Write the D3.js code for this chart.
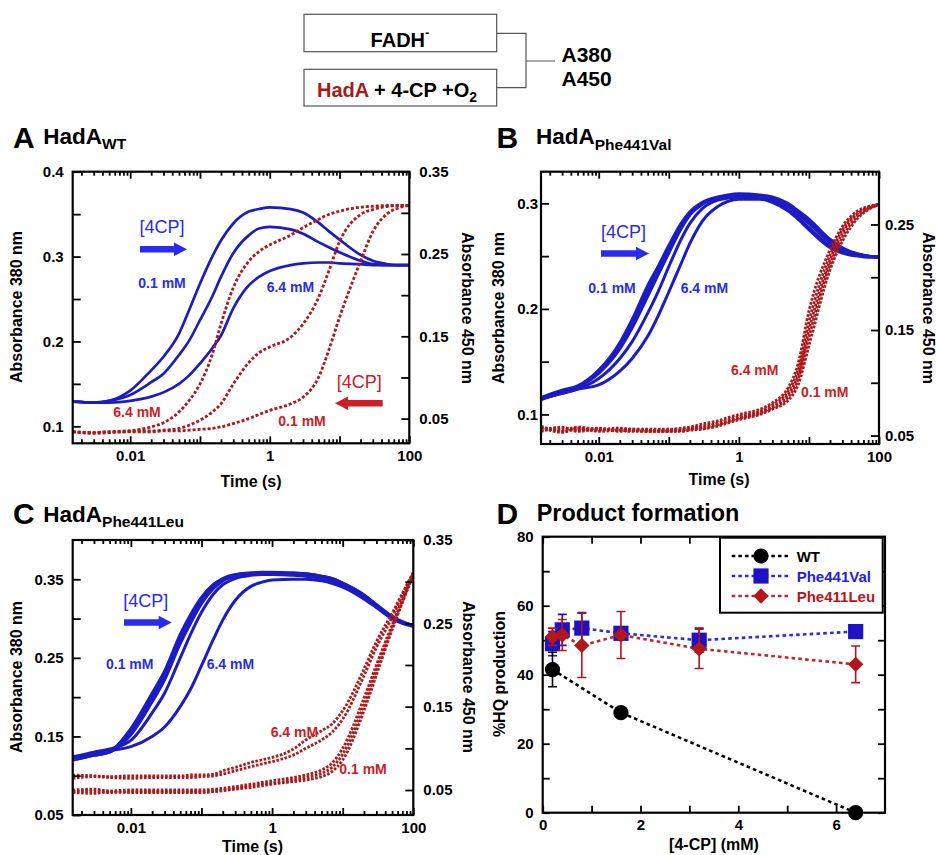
<!DOCTYPE html>
<html>
<head>
<meta charset="utf-8">
<script src="https://cdn.jsdelivr.net/npm/d3@7"></script>
<style>
body { margin: 0; background: #fff; }
svg { font-family: Arial, "Liberation Sans", Helvetica, sans-serif; }
</style>
</head>
<body>
<svg id="fig" width="936" height="855"></svg>
<script>
// sampling times (s) shared by all stopped-flow traces
var TIMES = [0.0015, 0.003, 0.005, 0.01, 0.02, 0.03, 0.05, 0.07, 0.1, 0.15, 0.2, 0.3, 0.5, 0.7, 1, 2, 3, 5, 7, 10, 20, 30, 50, 70, 100];

// panel A, HadA WT
var A380_01  = [0.129, 0.128, 0.130, 0.142, 0.166, 0.182, 0.209, 0.237, 0.268, 0.300, 0.319, 0.339, 0.353, 0.356, 0.358, 0.356, 0.352, 0.340, 0.330, 0.320, 0.302, 0.295, 0.291, 0.290, 0.290];
var A380_mid = [0.129, 0.128, 0.130, 0.137, 0.152, 0.162, 0.184, 0.201, 0.225, 0.253, 0.276, 0.304, 0.325, 0.333, 0.335, 0.332, 0.327, 0.317, 0.311, 0.305, 0.295, 0.291, 0.290, 0.290, 0.290];
var A380_64  = [0.129, 0.128, 0.128, 0.130, 0.135, 0.140, 0.150, 0.160, 0.174, 0.192, 0.207, 0.239, 0.266, 0.276, 0.283, 0.290, 0.292, 0.293, 0.293, 0.292, 0.291, 0.290, 0.290, 0.290, 0.290];
var A450_64  = [0.034, 0.032, 0.033, 0.035, 0.040, 0.045, 0.058, 0.072, 0.092, 0.128, 0.165, 0.209, 0.241, 0.253, 0.261, 0.273, 0.282, 0.292, 0.298, 0.302, 0.307, 0.308, 0.309, 0.309, 0.309];
var A450_mid = [0.034, 0.033, 0.034, 0.035, 0.035, 0.036, 0.038, 0.042, 0.048, 0.058, 0.068, 0.092, 0.118, 0.130, 0.137, 0.149, 0.165, 0.197, 0.229, 0.265, 0.298, 0.304, 0.308, 0.309, 0.309];
var A450_01  = [0.034, 0.033, 0.034, 0.034, 0.034, 0.035, 0.035, 0.036, 0.037, 0.038, 0.040, 0.044, 0.050, 0.055, 0.060, 0.068, 0.076, 0.100, 0.133, 0.173, 0.241, 0.277, 0.300, 0.306, 0.309];

// panel B, Phe441Val
var B380_1  = [0.116, 0.123, 0.127, 0.142, 0.168, 0.190, 0.222, 0.240, 0.260, 0.281, 0.292, 0.301, 0.306, 0.308, 0.309, 0.308, 0.306, 0.300, 0.293, 0.285, 0.266, 0.258, 0.252, 0.250, 0.249];
var B380_1b = [0.115, 0.122, 0.126, 0.140, 0.165, 0.186, 0.217, 0.236, 0.256, 0.278, 0.290, 0.300, 0.305, 0.307, 0.308, 0.307, 0.305, 0.298, 0.291, 0.283, 0.264, 0.257, 0.252, 0.250, 0.249];
var B380_2  = [0.114, 0.121, 0.126, 0.139, 0.162, 0.182, 0.212, 0.232, 0.253, 0.276, 0.289, 0.299, 0.305, 0.307, 0.308, 0.307, 0.304, 0.297, 0.290, 0.281, 0.263, 0.256, 0.251, 0.250, 0.249];
var B380_3  = [0.115, 0.120, 0.124, 0.134, 0.153, 0.169, 0.196, 0.216, 0.240, 0.266, 0.281, 0.295, 0.303, 0.305, 0.306, 0.305, 0.302, 0.294, 0.287, 0.277, 0.260, 0.254, 0.251, 0.250, 0.249];
var B380_64 = [0.115, 0.120, 0.124, 0.128, 0.141, 0.153, 0.174, 0.193, 0.216, 0.243, 0.262, 0.283, 0.297, 0.302, 0.304, 0.304, 0.301, 0.293, 0.285, 0.275, 0.258, 0.253, 0.250, 0.249, 0.249];
var B450_64 = [0.057, 0.055, 0.058, 0.056, 0.057, 0.056, 0.056, 0.056, 0.056, 0.057, 0.058, 0.061, 0.064, 0.067, 0.070, 0.075, 0.081, 0.095, 0.118, 0.168, 0.226, 0.248, 0.263, 0.267, 0.269];
var B450_2  = [0.055, 0.058, 0.054, 0.056, 0.055, 0.056, 0.055, 0.055, 0.055, 0.056, 0.057, 0.059, 0.062, 0.065, 0.068, 0.073, 0.079, 0.092, 0.112, 0.158, 0.221, 0.245, 0.261, 0.266, 0.269];
var B450_3  = [0.059, 0.054, 0.056, 0.055, 0.056, 0.055, 0.055, 0.055, 0.055, 0.055, 0.056, 0.058, 0.061, 0.064, 0.067, 0.072, 0.077, 0.089, 0.107, 0.150, 0.216, 0.242, 0.260, 0.265, 0.269];
var B450_4  = [0.054, 0.057, 0.055, 0.057, 0.054, 0.055, 0.054, 0.054, 0.054, 0.055, 0.056, 0.057, 0.060, 0.063, 0.066, 0.071, 0.076, 0.086, 0.103, 0.143, 0.212, 0.238, 0.258, 0.265, 0.269];
var B450_01 = [0.058, 0.053, 0.057, 0.054, 0.055, 0.054, 0.054, 0.054, 0.054, 0.054, 0.055, 0.056, 0.059, 0.062, 0.065, 0.070, 0.075, 0.083, 0.098, 0.135, 0.207, 0.234, 0.256, 0.264, 0.269];

// panel C, Phe441Leu
var C380_1  = [0.121, 0.127, 0.131, 0.160, 0.205, 0.233, 0.280, 0.305, 0.327, 0.344, 0.351, 0.356, 0.358, 0.359, 0.359, 0.358, 0.357, 0.354, 0.351, 0.345, 0.330, 0.318, 0.303, 0.296, 0.291];
var C380_1b = [0.120, 0.126, 0.130, 0.156, 0.200, 0.228, 0.274, 0.300, 0.323, 0.342, 0.350, 0.355, 0.358, 0.358, 0.358, 0.358, 0.357, 0.354, 0.351, 0.345, 0.330, 0.317, 0.302, 0.295, 0.291];
var C380_2  = [0.120, 0.126, 0.130, 0.152, 0.194, 0.222, 0.268, 0.294, 0.319, 0.339, 0.348, 0.354, 0.357, 0.358, 0.358, 0.357, 0.356, 0.353, 0.350, 0.344, 0.329, 0.317, 0.302, 0.295, 0.291];
var C380_3  = [0.124, 0.130, 0.134, 0.145, 0.180, 0.205, 0.250, 0.280, 0.308, 0.332, 0.343, 0.351, 0.355, 0.356, 0.356, 0.355, 0.354, 0.351, 0.348, 0.342, 0.327, 0.315, 0.301, 0.295, 0.291];
var C380_64 = [0.123, 0.128, 0.132, 0.137, 0.150, 0.162, 0.188, 0.210, 0.240, 0.275, 0.298, 0.323, 0.341, 0.346, 0.349, 0.350, 0.350, 0.348, 0.345, 0.340, 0.325, 0.314, 0.300, 0.294, 0.290];
var C450_64 = [0.068, 0.067, 0.066, 0.067, 0.067, 0.067, 0.067, 0.068, 0.068, 0.069, 0.073, 0.077, 0.083, 0.086, 0.089, 0.099, 0.110, 0.121, 0.129, 0.145, 0.195, 0.228, 0.262, 0.286, 0.311];
var C450_2  = [0.064, 0.066, 0.065, 0.064, 0.065, 0.065, 0.065, 0.065, 0.066, 0.067, 0.069, 0.073, 0.078, 0.081, 0.084, 0.092, 0.100, 0.110, 0.119, 0.135, 0.187, 0.221, 0.257, 0.284, 0.310];
var C450_3  = [0.050, 0.051, 0.049, 0.050, 0.050, 0.050, 0.050, 0.050, 0.050, 0.051, 0.052, 0.054, 0.057, 0.059, 0.061, 0.065, 0.068, 0.074, 0.082, 0.100, 0.160, 0.200, 0.248, 0.278, 0.309];
var C450_4  = [0.048, 0.049, 0.047, 0.048, 0.048, 0.048, 0.048, 0.048, 0.048, 0.049, 0.050, 0.052, 0.055, 0.057, 0.058, 0.062, 0.065, 0.070, 0.077, 0.093, 0.152, 0.194, 0.245, 0.276, 0.309];
var C450_01 = [0.047, 0.046, 0.048, 0.047, 0.047, 0.047, 0.047, 0.047, 0.047, 0.048, 0.049, 0.051, 0.053, 0.055, 0.057, 0.060, 0.062, 0.066, 0.072, 0.086, 0.145, 0.188, 0.242, 0.275, 0.308];

// panel D, product formation
var WT_CONC = [0.2, 1.6, 6.4];
var WT_HQ   = [41.5, 29, 0];
var WT_ERR  = [5, 0, 0];
var MUT_CONC = [0.2, 0.4, 0.8, 1.6, 3.2, 6.4];
var VAL_HQ   = [49, 53, 53.5, 52, 50, 52.5];
var VAL_ERR  = [3.5, 4.5, 4.5, 1.5, 3.5, 1.5];
var LEU_HQ   = [51, 51.5, 48.5, 51.5, 47.5, 43];
var LEU_ERR  = [2.5, 4.5, 9.3, 6.8, 5.7, 5.3];

// ticks
var X_DOMAIN = [0.0015, 100];
var X_DECADES = [0.01, 0.1, 1, 10, 100];
var X_LABELS = [0.01, 1, 100];
var A_LEFT = [0.1, 0.2, 0.3, 0.4],   A_LEFT_MINOR = [0.15, 0.25, 0.35];
var A_RIGHT = [0.05, 0.15, 0.25, 0.35], A_RIGHT_MINOR = [0.1, 0.2, 0.3];
var B_LEFT = [0.1, 0.2, 0.3],   B_LEFT_MINOR = [0.15, 0.25];
var B_RIGHT = [0.05, 0.15, 0.25], B_RIGHT_MINOR = [0.1, 0.2];
var C_LEFT = [0.05, 0.15, 0.25, 0.35], C_LEFT_MINOR = [0.1, 0.2, 0.3];
var C_RIGHT = [0.05, 0.15, 0.25, 0.35], C_RIGHT_MINOR = [0.1, 0.2, 0.3];
var D_Y = [0, 20, 40, 60, 80], D_Y_MINOR = [10, 30, 50, 70];
var D_X = [0, 2, 4, 6], D_X_MINOR = [1, 3, 5];

var BLUE = "#1c1cc4", BLUE_TXT = "#2a2af5", RED = "#b0181c", RED_TXT = "#cc2026";
var svg = d3.select("#fig");

function styleAxis(a) {
  a.select(".domain").remove();
  a.attr("font-size", null).attr("font-family", null);
  a.selectAll("line").attr("stroke", "#000").attr("stroke-width", 1.8);
  a.selectAll("text").attr("font-size", 15).attr("font-weight", "bold").attr("fill", "#000");
}

function addAxis(axis, tx, ty) {
  svg.append("g").attr("transform", "translate(" + tx + "," + ty + ")").call(axis).call(styleAxis);
}

function frame(x0, y0, x1, y1) {
  svg.append("rect").attr("x", x0).attr("y", y0).attr("width", x1 - x0).attr("height", y1 - y0)
    .attr("fill", "none").attr("stroke", "#000").attr("stroke-width", 2.2);
}

function label(txt, x, y, color, size, weight, anchor) {
  return svg.append("text").attr("x", x).attr("y", y).attr("fill", color || "#000")
    .attr("font-size", size || 14).attr("font-weight", weight || "bold")
    .attr("text-anchor", anchor || "start").text(txt);
}

function vtitle(txt, x, y, rot) {
  svg.append("text").attr("transform", "translate(" + x + "," + y + ")rotate(" + rot + ")")
    .attr("text-anchor", "middle").attr("font-size", 16).attr("font-weight", "bold").text(txt);
}

function arrow(x0, x1, y, color) {
  // shaft + head, pointing from x0 to x1
  var dir = x1 > x0 ? 1 : -1, hx = x1 - dir * 13;
  svg.append("path")
    .attr("d", "M" + x0 + "," + (y - 3.2) + "L" + hx + "," + (y - 3.2) + "L" + hx + "," + (y - 6.8) +
      "L" + x1 + "," + y + "L" + hx + "," + (y + 6.8) + "L" + hx + "," + (y + 3.2) + "L" + x0 + "," + (y + 3.2) + "Z")
    .attr("fill", color);
}

function kineticPanel(p) {
  var x = d3.scaleLog().domain(X_DOMAIN).range([p.x0, p.x1]);
  var yL = d3.scaleLinear().domain(p.left).range([p.y1, p.y0]);
  var yR = d3.scaleLinear().domain(p.right).range([p.y1, p.y0]);

  svg.append("clipPath").attr("id", "clip" + p.id).append("rect")
    .attr("x", p.x0).attr("y", p.y0).attr("width", p.x1 - p.x0).attr("height", p.y1 - p.y0);
  var plot = svg.append("g").attr("clip-path", "url(#clip" + p.id + ")");

  var lineL = d3.line().x(function(d, i) { return x(TIMES[i]); }).y(function(d) { return yL(d); }).curve(d3.curveMonotoneX);
  var lineR = d3.line().x(function(d, i) { return x(TIMES[i]); }).y(function(d) { return yR(d); }).curve(d3.curveMonotoneX);

  p.blue.forEach(function(s) {
    plot.append("path").attr("d", lineL(s)).attr("fill", "none").attr("stroke", BLUE)
      .attr("stroke-width", p.blueW).attr("stroke-linejoin", "round");
  });
  p.red.forEach(function(s) {
    plot.append("path").attr("d", lineR(s)).attr("fill", "none").attr("stroke", RED)
      .attr("stroke-width", 2.8).attr("stroke-dasharray", p.dash);
  });

  var minors = x.ticks().filter(function(t) { return X_DECADES.indexOf(t) < 0; });
  var fmtX = function(d) { return X_LABELS.indexOf(d) >= 0 ? String(d) : ""; };

  addAxis(d3.axisBottom(x).tickValues(X_DECADES).tickSize(-7).tickPadding(7.4).tickFormat(fmtX), 0, p.y1);
  addAxis(d3.axisBottom(x).tickValues(minors).tickSize(-4).tickFormat(""), 0, p.y1);
  addAxis(d3.axisTop(x).tickValues(X_DECADES).tickSize(-7).tickFormat(""), 0, p.y0);
  addAxis(d3.axisTop(x).tickValues(minors).tickSize(-4).tickFormat(""), 0, p.y0);

  addAxis(d3.axisLeft(yL).tickValues(p.leftTicks).tickSize(-8).tickPadding(p.gapL).tickFormat(d3.format(p.fmtL)), p.x0, 0);
  addAxis(d3.axisLeft(yL).tickValues(p.leftMinor).tickSize(-8).tickFormat(""), p.x0, 0);
  addAxis(d3.axisRight(yR).tickValues(p.rightTicks).tickSize(-8).tickPadding(p.gapR).tickFormat(d3.format(".2f")), p.x1, 0);
  addAxis(d3.axisRight(yR).tickValues(p.rightMinor).tickSize(-8).tickFormat(""), p.x1, 0);

  frame(p.x0, p.y0, p.x1, p.y1);

  label("Time (s)", p.xt[0], p.xt[1], "#000", 16, "bold", "middle");
  vtitle("Absorbance 380 nm", p.ylt[0], p.ylt[1], -90);
  vtitle("Absorbance 450 nm", p.yrt[0], p.yrt[1], 90);
}

// ---------- header scheme ----------
svg.append("rect").attr("x", 304).attr("y", 14.3).attr("width", 192.7).attr("height", 37.4)
  .attr("fill", "none").attr("stroke", "#555").attr("stroke-width", 1.2);
svg.append("rect").attr("x", 304).attr("y", 69.3).attr("width", 192.7).attr("height", 36.7)
  .attr("fill", "none").attr("stroke", "#555").attr("stroke-width", 1.2);
svg.append("path").attr("d", "M496.7,33.3H526V87.7H496.7M526,61H555")
  .attr("fill", "none").attr("stroke", "#555").attr("stroke-width", 1.2);
var fadh = label("FADH", 400, 46.5, "#000", 20, "bold", "middle");
fadh.append("tspan").attr("font-size", 13).attr("dy", -10).text("-");
var had = label("", 317, 96.5, "#000", 20, "bold");
had.append("tspan").attr("fill", "#a51c1c").text("HadA");
had.append("tspan").text(" + 4-CP +O");
had.append("tspan").attr("font-size", 14).attr("dy", 5).text("2");
label("A380", 561.5, 61.5, "#000", 21, "bold");
label("A450", 561.5, 85.5, "#000", 21, "bold");

// ---------- panel titles ----------
function panelTitle(letter, lx, lby, name, sub, nx, nby, subDy) {
  label(letter, lx, lby, "#000", 30, "bold");
  var t = label(name, nx, nby, "#000", 22.5, "bold");
  if (sub) t.append("tspan").attr("font-size", 15.5).attr("dy", subDy).text(sub);
}
panelTitle("A", 13, 148, "HadA", "WT", 43.3, 144, 5);
panelTitle("B", 496.5, 147.5, "HadA", "Phe441Val", 536, 143.5, 6);
panelTitle("C", 13, 523.5, "HadA", "Phe441Leu", 43.3, 521.5, 5);
label("D", 496.5, 523.5, "#000", 30, "bold");
label("Product formation", 536.7, 520.7, "#000", 23.4, "bold");

// ---------- panels A-C ----------
kineticPanel({
  id: "A", x0: 72.7, x1: 409.3, y0: 171.7, y1: 443.3, left: [0.08, 0.4], right: [0.02, 0.35],
  leftTicks: A_LEFT, leftMinor: A_LEFT_MINOR, rightTicks: A_RIGHT, rightMinor: A_RIGHT_MINOR,
  fmtL: ".1f", gapL: 9, gapR: 10, blueW: 2.7, dash: "3,2",
  blue: [A380_01, A380_mid, A380_64], red: [A450_64, A450_mid, A450_01],
  xt: [251, 487], ylt: [21.7, 307], yrt: [461.5, 308]
});
kineticPanel({
  id: "B", x0: 541, x1: 879, y0: 171.7, y1: 444, left: [0.072, 0.33], right: [0.042, 0.30],
  leftTicks: B_LEFT, leftMinor: B_LEFT_MINOR, rightTicks: B_RIGHT, rightMinor: B_RIGHT_MINOR,
  fmtL: ".1f", gapL: 3, gapR: 6, blueW: 3, dash: "2.6,1.6",
  blue: [B380_1, B380_1b, B380_2, B380_3, B380_64], red: [B450_64, B450_2, B450_3, B450_4, B450_01],
  xt: [719, 485], ylt: [504, 308], yrt: [922.5, 308]
});
kineticPanel({
  id: "C", x0: 72.7, x1: 413.3, y0: 540, y1: 815, left: [0.05, 0.40], right: [0.02, 0.35],
  leftTicks: C_LEFT, leftMinor: C_LEFT_MINOR, rightTicks: C_RIGHT, rightMinor: C_RIGHT_MINOR,
  fmtL: ".2f", gapL: 9, gapR: 10, blueW: 3, dash: "2.6,1.6",
  blue: [C380_1, C380_1b, C380_2, C380_3, C380_64], red: [C450_64, C450_2, C450_3, C450_4, C450_01],
  xt: [252.5, 851.5], ylt: [21.7, 677], yrt: [463, 677]
});

// annotations A
label("[4CP]", 139.5, 232.5, BLUE_TXT, 18, "normal");
arrow(140, 187, 249.3, BLUE_TXT);
label("0.1 mM", 138.3, 288.3, BLUE_TXT);
label("6.4 mM", 266.7, 291.7, BLUE_TXT);
label("[4CP]", 336.7, 388.3, RED_TXT, 18, "normal");
arrow(382.7, 335, 403.3, RED_TXT);
label("6.4 mM", 113.3, 417.3, RED_TXT);
label("0.1 mM", 278.3, 425.7, RED_TXT);
// annotations B
label("[4CP]", 601, 238.3, BLUE_TXT, 18, "normal");
arrow(601, 649, 253.5, BLUE_TXT);
label("0.1 mM", 588.3, 292.7, BLUE_TXT);
label("6.4 mM", 680.7, 292.7, BLUE_TXT);
label("6.4 mM", 731, 375, RED_TXT);
label("0.1 mM", 801, 396.7, RED_TXT);
// annotations C
label("[4CP]", 123.3, 607.3, BLUE_TXT, 18, "normal");
arrow(124, 171.7, 622.5, BLUE_TXT);
label("0.1 mM", 106, 669, BLUE_TXT);
label("6.4 mM", 206.7, 669, BLUE_TXT);
label("6.4 mM", 270.7, 737.3, RED_TXT);
label("0.1 mM", 339.3, 774, RED_TXT);

// ---------- panel D ----------
(function() {
  var x0 = 542.7, x1 = 885, y0 = 536.7, y1 = 812.7;
  var x = d3.scaleLinear().domain([0, 7]).range([x0, x1]);
  var y = d3.scaleLinear().domain([0, 80]).range([y1, y0]);

  addAxis(d3.axisBottom(x).tickValues(D_X).tickSize(-7).tickPadding(7).tickFormat(d3.format("d")), 0, y1);
  addAxis(d3.axisBottom(x).tickValues(D_X_MINOR).tickSize(-7).tickFormat(""), 0, y1);
  addAxis(d3.axisTop(x).tickValues(D_X.concat(D_X_MINOR)).tickSize(-7).tickFormat(""), 0, y0);
  addAxis(d3.axisLeft(y).tickValues(D_Y).tickSize(-7).tickPadding(9).tickFormat(d3.format("d")), x0, 0);
  addAxis(d3.axisLeft(y).tickValues(D_Y_MINOR).tickSize(-7).tickFormat(""), x0, 0);
  addAxis(d3.axisRight(y).tickValues(D_Y.concat(D_Y_MINOR)).tickSize(-7).tickFormat(""), x1, 0);
  frame(x0, y0, x1, y1);

  var series = [
    { xs: MUT_CONC, ys: VAL_HQ, es: VAL_ERR, line: "#2a2af0", fill: "#1f12c4", shape: "square" },
    { xs: MUT_CONC, ys: LEU_HQ, es: LEU_ERR, line: "#c0282a", fill: "#b5161b", shape: "diamond" },
    { xs: WT_CONC, ys: WT_HQ, es: WT_ERR, line: "#000", fill: "#000", shape: "circle" }
  ];
  var line = d3.line().x(function(d) { return x(d[0]); }).y(function(d) { return y(d[1]); });

  function marker(g, shape, cx, cy, fill) {
    if (shape === "circle") g.append("circle").attr("cx", cx).attr("cy", cy).attr("r", 7.6).attr("fill", fill);
    else if (shape === "square") g.append("rect").attr("x", cx - 7.6).attr("y", cy - 7.6).attr("width", 15.2).attr("height", 15.2).attr("fill", fill);
    else g.append("path").attr("d", d3.symbol(d3.symbolSquare, 118)()).attr("transform", "translate(" + cx + "," + cy + ")rotate(45)").attr("fill", fill);
  }

  series.forEach(function(s) {
    var pts = s.xs.map(function(v, i) { return [v, s.ys[i]]; });
    svg.append("path").attr("d", line(pts)).attr("fill", "none").attr("stroke", s.line)
      .attr("stroke-width", 2.6).attr("stroke-dasharray", "3.6,3.2");
  });
  series.forEach(function(s) {
    var g = svg.append("g");
    s.xs.forEach(function(v, i) {
      if (!s.es[i]) return;
      var cx = x(v), ya = y(s.ys[i] - s.es[i]), yb = y(s.ys[i] + s.es[i]);
      g.append("path").attr("d", "M" + cx + "," + ya + "V" + yb + "M" + (cx - 4.5) + "," + ya + "H" + (cx + 4.5) + "M" + (cx - 4.5) + "," + yb + "H" + (cx + 4.5))
        .attr("stroke", s.fill).attr("stroke-width", 1.6).attr("fill", "none");
    });
    s.xs.forEach(function(v, i) { marker(g, s.shape, x(v), y(s.ys[i]), s.fill); });
  });

  // legend
  svg.append("rect").attr("x", 720).attr("y", 537.7).attr("width", 162.7).attr("height", 75)
    .attr("fill", "#fff").attr("stroke", "#000").attr("stroke-width", 2);
  var leg = [
    { name: "WT", s: series[2], ty: "#000" },
    { name: "Phe441Val", s: series[0], ty: "#2222dd" },
    { name: "Phe411Leu", s: series[1], ty: "#b5161b" }
  ];
  leg.forEach(function(l, i) {
    var ly = 556 + i * 20;
    svg.append("line").attr("x1", 731.7).attr("x2", 788).attr("y1", ly).attr("y2", ly)
      .attr("stroke", l.s.line).attr("stroke-width", 2.4).attr("stroke-dasharray", "3.6,3");
    marker(svg, l.s.shape, 761, ly, l.s.fill);
    label(l.name, 796.7, ly + 5.5, l.ty, 15, "bold");
  });

  label("[4-CP] (mM)", 714, 850, "#000", 16, "bold", "middle");
  vtitle("%HQ production", 505, 674, -90);
})();
</script>
</body>
</html>
